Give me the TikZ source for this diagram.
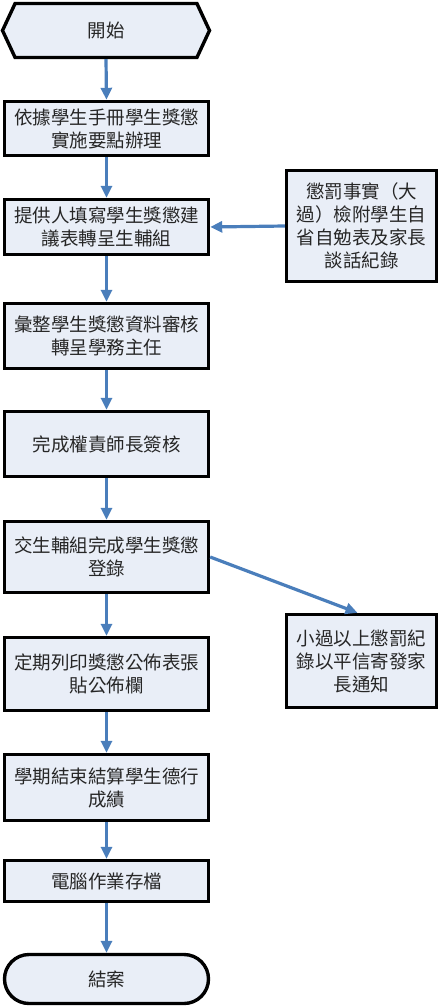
\documentclass[tikz,border=0pt]{standalone}
\usepackage{fontspec}
\setmainfont{Noto Sans CJK TC}
\usetikzlibrary{shapes.misc,shapes.symbols,arrows.meta,calc}
\definecolor{boxfill}{HTML}{E9EEF7}
\definecolor{arrowblue}{HTML}{4A7EBB}
\begin{document}
\begin{tikzpicture}[x=1pt,y=-1pt,
  txt/.style={font=\fontsize{18.5}{23}\selectfont, text=black!85, align=center, inner sep=0pt},
  box/.style={txt, draw=black, line width=3.4pt, fill=boxfill, minimum width=204pt},
  flow/.style={draw=arrowblue, line width=3.2pt, -{Triangle[length=12pt,width=11pt]}}]
\useasboundingbox (0,0) rectangle (439,1007);
\node[txt, draw=black, line width=3.4pt, fill=boxfill, shape=signal, signal to=west and east, signal pointer angle=130, minimum width=207pt, minimum height=54pt] (start) at (106,30.5) {開始};
\node[box, minimum height=54pt] (b1) at (106.5,128.5) {依據學生手冊學生獎懲\\實施要點辦理};
\node[box, minimum height=55pt] (b2) at (106.5,227) {提供人填寫學生獎懲建\\議表轉呈生輔組};
\node[box, minimum height=65pt] (b3) at (106.5,336) {彙整學生獎懲資料審核\\轉呈學務主任};
\node[box, minimum height=65pt] (b4) at (106.5,444) {完成權責師長簽核};
\node[box, minimum height=71pt] (b5) at (106.5,557) {交生輔組完成學生獎懲\\登錄};
\node[box, minimum height=73pt] (b6) at (106.5,674) {定期列印獎懲公佈表張\\貼公佈欄};
\node[box, minimum height=66pt] (b7) at (106.5,787.5) {學期結束結算學生德行\\成績};
\node[box, minimum height=41pt] (b8) at (106.5,881) {電腦作業存檔};
\node[box, shape=rounded rectangle, minimum height=49pt] (end) at (106.5,979) {結案};
\node[box, minimum width=150pt, minimum height=111pt] (s1) at (361.5,226) {懲罰事實（大\\過）檢附學生自\\省自勉表及家長\\談話紀錄};
\node[box, minimum width=150pt, minimum height=93pt] (s2) at (361.5,661) {小過以上懲罰紀\\錄以平信寄發家\\長通知};
\coordinate (s2in) at ($(s2.north)+(-4,0)$);
\draw[flow] (start.south) -- (b1.north);
\draw[flow] (b1) -- (b2);
\draw[flow] (b2) -- (b3);
\draw[flow] (b3) -- (b4);
\draw[flow] (b4) -- (b5);
\draw[flow] (b5) -- (b6);
\draw[flow] (b6) -- (b7);
\draw[flow] (b7) -- (b8);
\draw[flow] (b8) -- (end);
\draw[flow] (s1.west) -- (b2.east);
\draw[flow] (b5.east) -- (s2in);
\end{tikzpicture}
\end{document}
